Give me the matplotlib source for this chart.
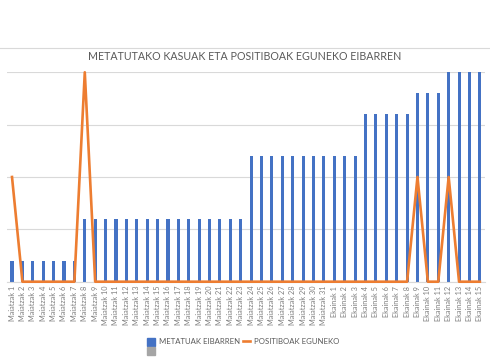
import numpy as np
import matplotlib.pyplot as plt
from matplotlib.lines import Line2D
from matplotlib.patches import Patch

# datuak
egunak = ["Maiatzak %d" % i for i in range(1, 32)] + ["Ekainak %d" % i for i in range(1, 16)]
metatuak = [2] * 7 + [6] * 16 + [12] * 11 + [16] * 5 + [18] * 3 + [20] * 4
positiboak = ([10, 0, 0, 0, 0, 0, 0, 20] + [0] * 31 +
              [10, 0, 0, 10, 0, 0, 0])

plt.rcParams['font.family'] = ['Lato', 'DejaVu Sans']

fig = plt.figure(figsize=(4.9, 3.6), dpi=100)
ax = fig.add_axes([0.0139, 0.2175, 0.976, 0.5817])

x = np.arange(len(egunak))
ax.bar(x, metatuak, width=0.3, color='#4472C4', zorder=2)
ax.plot(x, positiboak, color='#ED7D31', lw=1.9, zorder=3, clip_on=False)

ax.set_xlim(-0.5, len(egunak) - 0.5)
ax.set_ylim(0, 20)
ax.set_yticks([0, 5, 10, 15, 20])
ax.set_yticklabels([])
ax.tick_params(axis='y', length=0)
ax.grid(axis='y', color='#d9d9d9', lw=0.8, zorder=0)
ax.set_xticks(x)
ax.set_xticklabels(egunak, rotation=90, fontsize=5.3, color='#7f7f7f')
ax.tick_params(axis='x', length=0, pad=3)
for s in ['top', 'right', 'left']:
    ax.spines[s].set_visible(False)
ax.spines['bottom'].set_color('#d9d9d9')

fig.text(0.5, 0.8444, "METATUTAKO KASUAK ETA POSITIBOAK EGUNEKO EIBARREN",
         ha='center', va='center', fontsize=7.7, color='#595959')

# goiko marra
fig.add_artist(Line2D([0, 1], [1 - 48 / 360, 1 - 48 / 360], color='#d9d9d9', lw=0.8))

handles = [Patch(color='#4472C4'), Patch(color='#A5A5A5'),
           Line2D([], [], color='#ED7D31', lw=1.9)]
labels = ['METATUAK EIBARREN', '', 'POSITIBOAK EGUNEKO']
fig.legend(handles, labels, ncol=2, loc='center', bbox_to_anchor=(0.497, 0.0375),
           frameon=False, fontsize=5.6, labelcolor='#595959', handlelength=1.0,
           handleheight=1.1, columnspacing=0.3, labelspacing=0.25, handletextpad=0.5,
           borderpad=0)

fig.savefig('out.png', dpi=100)
